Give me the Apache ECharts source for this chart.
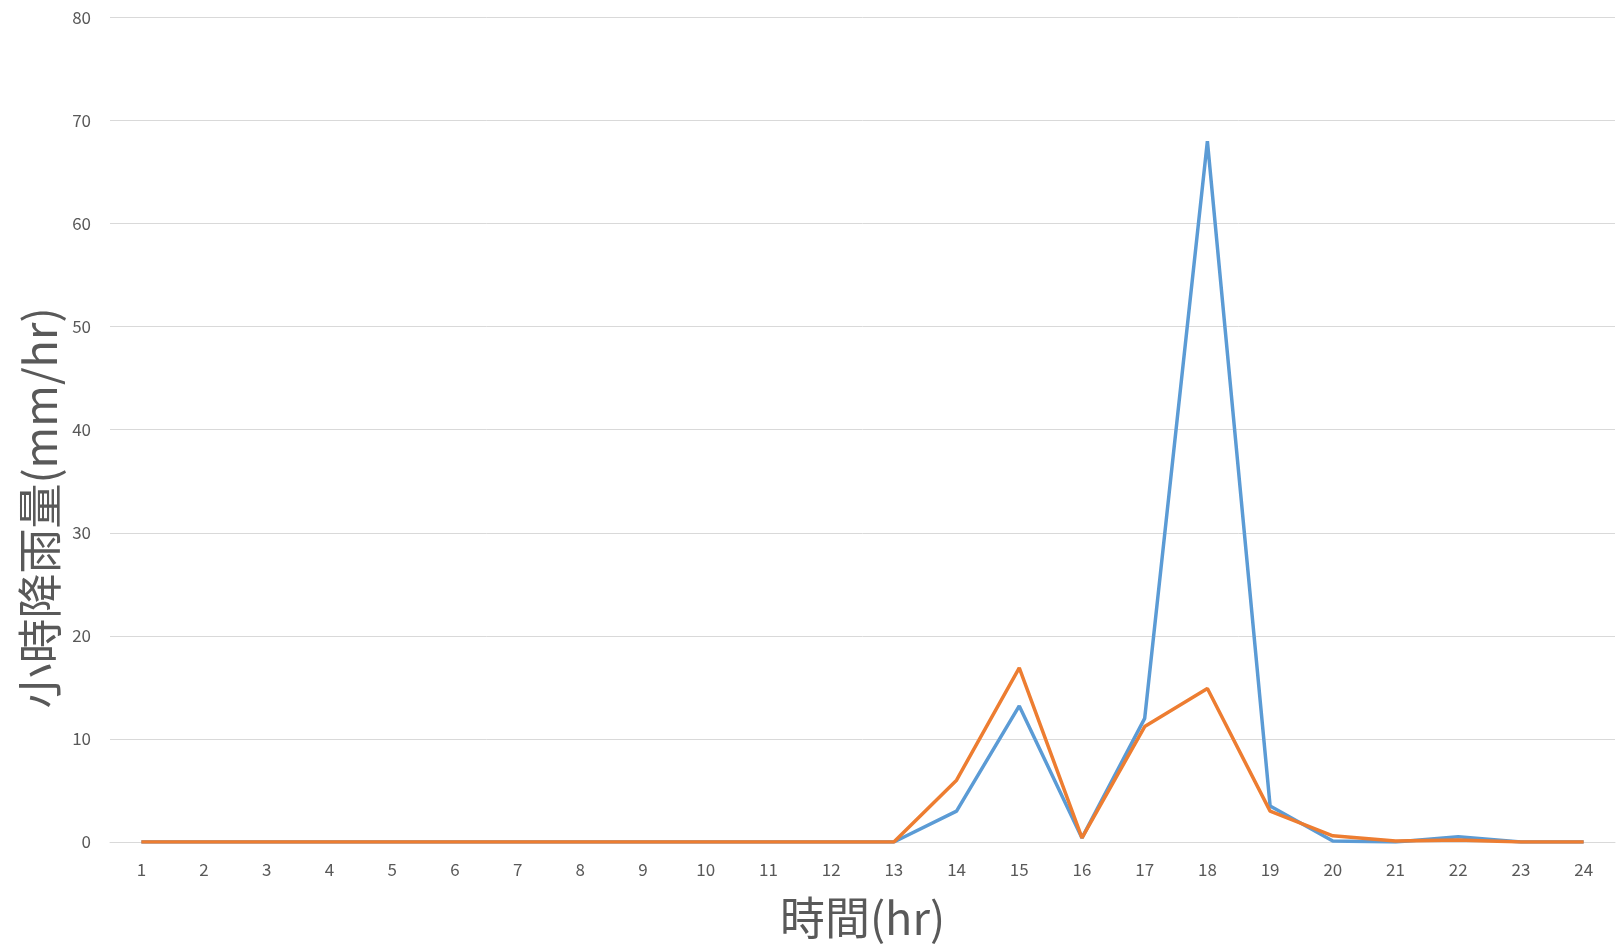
<!DOCTYPE html>
<html><head><meta charset="utf-8">
<script src="https://cdn.jsdelivr.net/npm/echarts@6/dist/echarts.min.js"></script>
<style>html,body{margin:0;padding:0;background:#fff}#c{width:1618px;height:945px}</style>
</head><body><div id="c"></div>
<script>
const hours = ['1','2','3','4','5','6','7','8','9','10','11','12','13','14','15','16','17','18','19','20','21','22','23','24'];
const seriesA = [0,0,0,0,0,0,0,0,0,0,0,0,0,3,13.2,0.4,12,68,3.5,0.1,0,0.5,0,0];
const seriesB = [0,0,0,0,0,0,0,0,0,0,0,0,0,6,16.9,0.4,11.2,14.9,3,0.6,0.1,0.2,0,0];
const yTicks = [0,10,20,30,40,50,60,70,80];
const xTitle = '時間(hr)';
const yTitle = '小時降雨量(mm/hr)';

const chart = echarts.init(document.getElementById('c'));
const font = '"Noto Sans CJK TC","Noto Sans",sans-serif';
chart.setOption({
  animation: false,
  grid: {left: 110, right: 3, top: 17.5, bottom: 102},
  xAxis: {
    type: 'category', data: hours, boundaryGap: true,
    axisLine: {show: true, lineStyle: {color: '#d9d9d9', width: 1}},
    axisTick: {show: false},
    axisLabel: {color: '#595959', fontSize: 17, margin: 19, fontFamily: font},
    name: xTitle, nameLocation: 'middle', nameGap: 53,
    nameTextStyle: {color: '#595959', fontSize: 45, fontFamily: font}
  },
  yAxis: {
    type: 'value', min: yTicks[0], max: yTicks[yTicks.length-1], interval: 10,
    axisLine: {show: false}, axisTick: {show: false},
    axisLabel: {color: '#595959', fontSize: 17, margin: 19, fontFamily: font},
    splitLine: {lineStyle: {color: '#d9d9d9', width: 1}}
  },
  graphic: [{
    type: 'text', x: 40, y: 508, rotation: Math.PI/2,
    style: {text: yTitle, fill: '#595959', font: '45px ' + font, textAlign: 'center', textVerticalAlign: 'middle'}
  }],
  series: [
    {type: 'line', data: seriesA, showSymbol: false, symbol: 'none', lineStyle: {color: '#5B9BD5', width: 3.5}, itemStyle: {color: '#5B9BD5'}},
    {type: 'line', data: seriesB, showSymbol: false, symbol: 'none', lineStyle: {color: '#ED7D31', width: 3.5}, itemStyle: {color: '#ED7D31'}}
  ]
});
</script></body></html>
